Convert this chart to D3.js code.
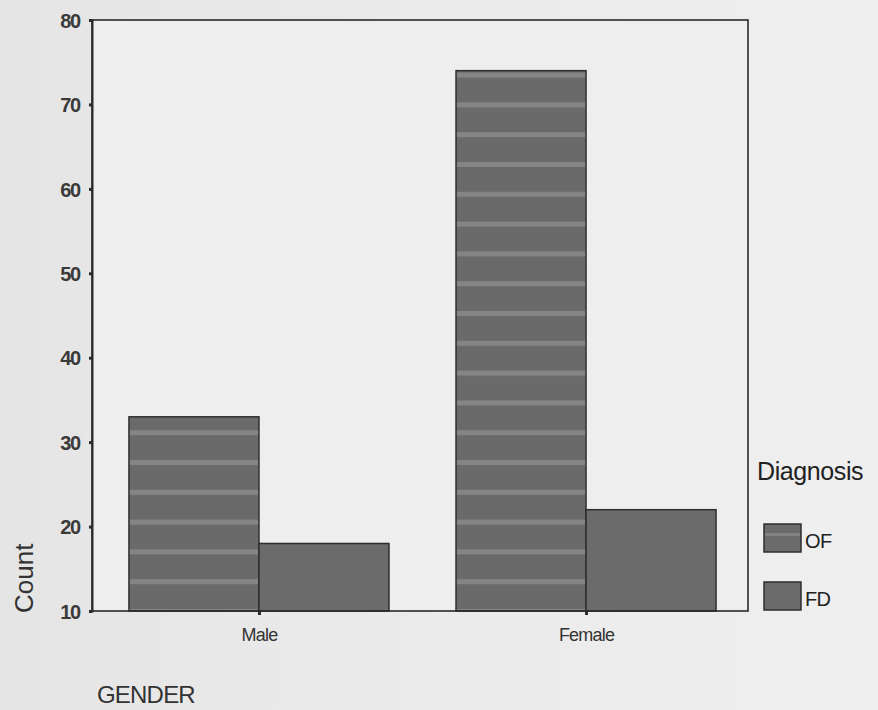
<!DOCTYPE html>
<html><head><meta charset="utf-8">
<script src="https://cdn.jsdelivr.net/npm/d3@7"></script>
<style>
html,body{margin:0;padding:0;background:#eaeaea;}
text{font-family:"Liberation Sans",Arial,sans-serif;}
</style></head>
<body>
<svg id="chart" width="878" height="710"></svg>
<script>
const genders = ["Male", "Female"];
const diagnoses = ["OF", "FD"];
const ofCounts = [33, 74];
const fdCounts = [18, 22];
const yTicks = [10, 20, 30, 40, 50, 60, 70, 80];

const svg = d3.select("#chart");
const W = 878, H = 710;
const m = {left: 92, right: 748, top: 20, bottom: 611};

const defs = svg.append("defs");
const bg = defs.append("linearGradient").attr("id","bg").attr("x1","0").attr("x2","1").attr("y1","0").attr("y2","0");
bg.append("stop").attr("offset","0%").attr("stop-color","#e5e5e5");
bg.append("stop").attr("offset","50%").attr("stop-color","#ebebeb");
bg.append("stop").attr("offset","100%").attr("stop-color","#efefef");
svg.append("rect").attr("width",W).attr("height",H).attr("fill","url(#bg)");

const pat = defs.append("pattern").attr("id","stripes").attr("patternUnits","userSpaceOnUse")
  .attr("x",0).attr("y",13).attr("width",10).attr("height",29.8);
pat.append("rect").attr("width",10).attr("height",29.8).attr("fill","#6a6a6a");
pat.append("rect").attr("y",0).attr("width",10).attr("height",5).attr("fill","#858585");

const x0 = d3.scaleBand().domain(genders).range([m.left, m.right + 5]).paddingInner(0.205).paddingOuter(0.113);
const x1 = d3.scaleBand().domain(diagnoses).range([0, x0.bandwidth()]);
const y = d3.scaleLinear().domain([10, 80]).range([m.bottom, m.top]);

svg.append("rect").attr("x",m.left).attr("y",m.top).attr("width",m.right-m.left).attr("height",m.bottom-m.top)
  .attr("fill","#eeeeee");

const rows = genders.map((g,i)=>({g, vals:[{k:"OF",v:ofCounts[i]},{k:"FD",v:fdCounts[i]}]}));
const grp = svg.selectAll("g.grp").data(rows).join("g").attr("class","grp")
  .attr("transform", d=>`translate(${x0(d.g)},0)`);
grp.selectAll("rect").data(d=>d.vals).join("rect")
  .attr("x", d=>x1(d.k)).attr("width", x1.bandwidth())
  .attr("y", d=>y(d.v)).attr("height", d=>y(10)-y(d.v))
  .attr("fill", d=>d.k==="OF" ? "url(#stripes)" : "#6b6b6b")
  .attr("stroke","#2e2e2e").attr("stroke-width",1.5);

svg.append("rect").attr("x",m.left).attr("y",m.top).attr("width",m.right-m.left).attr("height",m.bottom-m.top)
  .attr("fill","none").attr("stroke","#2a2a2a").attr("stroke-width",1.6);

const yAxis = d3.axisLeft(y).tickValues(yTicks).tickSize(3).tickFormat(d3.format("d"));
const ya = svg.append("g").attr("transform",`translate(${m.left},0)`).call(yAxis);
ya.attr("font-size",null);
ya.select(".domain").attr("stroke","#2a2a2a").attr("stroke-width",2);
ya.selectAll(".tick line").attr("stroke","#2a2a2a").attr("stroke-width",3);
ya.selectAll(".tick text").style("font-size","20px").style("font-weight","bold").attr("fill","#3a3a3a")
  .attr("x",-12).attr("dy","0.36em").style("letter-spacing","-1.2px").style("font-family","Liberation Sans, Arial, sans-serif");

const xa = svg.append("g").attr("transform",`translate(0,${m.bottom})`)
  .call(d3.axisBottom(d3.scalePoint().domain(genders).range([x0("Male")+x0.bandwidth()/2, x0("Female")+x0.bandwidth()/2])).tickSize(4));
xa.attr("font-size",null);
xa.select(".domain").remove();
xa.selectAll(".tick line").attr("stroke","#2a2a2a").attr("stroke-width",3);
xa.selectAll(".tick text").style("font-size","18px").attr("fill","#333").attr("y",17)
  .style("letter-spacing","-0.8px").style("font-family","Liberation Sans, Arial, sans-serif");

svg.append("text").attr("transform","translate(33,613) rotate(-90)").attr("text-anchor","start")
  .style("font-size","26px").attr("fill","#333").text("Count");
svg.append("text").attr("x",97).attr("y",703).style("font-size","24px").attr("fill","#333")
  .style("letter-spacing","-0.8px").text("GENDER");

svg.append("text").attr("x",757).attr("y",480).style("font-size","25px").attr("fill","#222")
  .style("letter-spacing","-0.4px").text("Diagnosis");
const lg = svg.selectAll("g.lg").data(diagnoses).join("g").attr("class","lg")
  .attr("transform",(d,i)=>`translate(764,${524+i*58})`);
lg.append("rect").attr("width",37).attr("height",28)
  .attr("fill","#6b6b6b").attr("stroke","#2e2e2e").attr("stroke-width",1.5);
lg.filter(d=>d==="OF").append("rect").attr("x",1).attr("y",9).attr("width",35).attr("height",3).attr("fill","#828282");
lg.append("text").attr("x",41).attr("y",24).style("font-size","20px").attr("fill","#222")
  .style("letter-spacing","-0.6px").text(d=>d);
</script>
</body></html>
